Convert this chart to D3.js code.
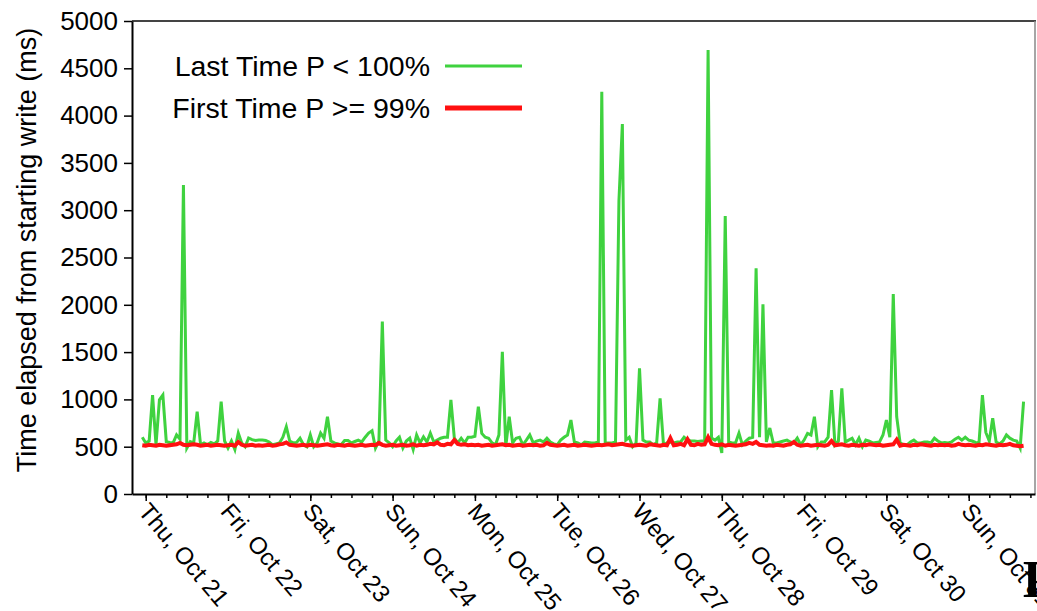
<!DOCTYPE html>
<html>
<head>
<meta charset="utf-8">
<script src="https://cdn.jsdelivr.net/npm/d3@7"></script>
<style>
  body { margin: 0; background: #fff; }
  svg { display: block; font-family: "Liberation Sans", Arial, sans-serif; }
</style>
</head>
<body>
<script>
// one sample per hour, first one at Wed Oct 20 2010 23:00
const firstSample = new Date(2010, 9, 20, 23);

// "Last Time P < 100%" (ms), hourly
const lastTimeMs = [600,
  540,560,1046,520,995,1046,553,545,540,624,580,3266,486,553,540,870,520,540,520,545,530,560,976,560,
  486,560,470,644,540,500,592,575,565,570,570,565,550,520,530,540,600,711,560,540,545,590,520,500,
  624,500,540,644,590,817,560,540,530,520,565,565,540,555,570,550,600,644,669,486,560,1822,570,540,
  500,560,600,486,560,590,470,624,540,605,550,644,550,570,590,600,600,995,590,540,590,540,600,600,
  610,923,640,600,590,540,520,624,1504,500,817,540,590,600,520,570,624,540,560,570,550,590,550,530,
  520,570,600,624,782,550,540,520,550,545,540,540,550,4253,540,540,540,550,3100,3911,570,600,500,540,
  1328,570,550,550,520,540,1011,520,540,550,540,550,550,600,570,560,560,555,560,560,4693,590,570,600,
  433,2939,550,540,540,644,520,560,590,600,2386,600,2005,550,698,540,540,550,560,570,550,540,590,520,
  570,641,624,817,500,550,550,600,1099,520,560,1117,550,570,590,520,590,500,570,560,540,545,550,624,
  782,600,2114,817,540,520,520,550,570,540,540,550,550,540,590,560,540,545,540,550,580,600,570,600,
  570,560,545,540,1046,650,560,800,550,530,560,624,590,570,560,486,976];

// "First Time P >= 99%" (ms), hourly
const firstTimeMs = [515,
  510,520,515,510,520,515,510,515,520,525,540,520,515,520,525,520,510,515,520,510,515,520,515,510,
  515,520,510,550,520,510,515,520,510,515,510,515,520,510,515,525,530,545,520,515,510,515,520,510,
  520,515,510,515,520,525,515,510,520,515,510,520,515,510,515,520,510,515,520,515,540,520,510,515,
  520,510,515,520,510,515,525,510,520,515,520,530,525,545,520,515,530,525,570,530,520,525,515,520,
  515,520,510,515,520,510,515,520,525,515,520,510,515,520,510,515,520,515,520,510,515,540,520,515,
  510,515,520,510,515,520,510,515,520,515,510,515,520,515,520,525,515,520,525,530,520,515,510,515,
  520,515,510,525,520,515,510,520,515,590,515,520,530,515,580,520,515,530,520,525,600,530,520,515,
  525,510,520,515,510,515,520,525,540,530,550,520,515,510,515,510,520,515,510,520,525,550,520,510,
  515,520,510,515,520,515,510,520,560,515,520,525,515,510,520,515,510,520,515,525,520,515,520,510,
  515,520,525,575,510,520,515,510,520,515,525,520,515,510,520,515,520,515,520,510,515,530,520,515,
  520,515,510,520,515,525,520,515,510,520,515,520,530,515,510,505,510];

const yTicks = [0,500,1000,1500,2000,2500,3000,3500,4000,4500,5000];
const seriesNames = ["Last Time P < 100%", "First Time P >= 99%"];
const seriesColors = ["#3fd23f", "#ff1010"];

const width = 1037, height = 611;
const plotLeft = 132, plotRight = 1035, plotTop = 21, plotBottom = 494;

const svg = d3.select("body").append("svg")
  .attr("width", width)
  .attr("height", height);

svg.append("rect").attr("width", width).attr("height", height).attr("fill", "#fff");

const x = d3.scaleTime()
  .domain([new Date(2010, 9, 20, 20), new Date(2010, 9, 31, 19, 20)])
  .range([plotLeft, plotRight]);
const y = d3.scaleLinear()
  .domain([0, 5000])
  .range([plotBottom, plotTop]);

// frame (top + right)
svg.append("line").attr("x1", plotLeft).attr("x2", plotRight + 1).attr("y1", plotTop).attr("y2", plotTop)
  .attr("stroke", "#444").attr("stroke-width", 2);
svg.append("line").attr("x1", plotRight).attr("x2", plotRight).attr("y1", plotTop).attr("y2", plotBottom)
  .attr("stroke", "#888").attr("stroke-width", 1.5);

// lines
const toPoints = arr => arr.map((v, i) => [d3.timeHour.offset(firstSample, i), v]);
const line = d3.line().x(d => x(d[0])).y(d => y(d[1]));

svg.append("path")
  .datum(toPoints(lastTimeMs))
  .attr("fill", "none")
  .attr("stroke", seriesColors[0])
  .attr("stroke-width", 3)
  .attr("d", line);

svg.append("path")
  .datum(toPoints(firstTimeMs))
  .attr("fill", "none")
  .attr("stroke", seriesColors[1])
  .attr("stroke-width", 4)
  .attr("d", line);

// y axis
const yAxis = svg.append("g")
  .attr("transform", "translate(" + plotLeft + ",0)")
  .call(d3.axisLeft(y).tickValues(yTicks).tickFormat(d3.format("d"))
    .tickSize(8).tickPadding(6).tickSizeOuter(0));
yAxis.select(".domain").attr("stroke", "#000").attr("stroke-width", 2);
yAxis.selectAll(".tick line").attr("stroke-width", 1.5);
yAxis.selectAll("text").attr("font-size", 26).attr("fill", "#000")
  .attr("font-family", "Liberation Sans, Arial, sans-serif");

// x axis: minor every 6 hours, major every day
const xMinor = svg.append("g")
  .attr("transform", "translate(0," + plotBottom + ")")
  .call(d3.axisBottom(x).ticks(d3.timeHour.every(6)).tickSize(4).tickFormat("").tickSizeOuter(0));
xMinor.selectAll(".tick line").attr("stroke-width", 1.5);
xMinor.select(".domain").attr("stroke", "#000").attr("stroke-width", 2);

const xAxis = svg.append("g")
  .attr("transform", "translate(0," + plotBottom + ")")
  .call(d3.axisBottom(x).ticks(d3.timeDay.every(1)).tickSize(7)
    .tickFormat(d3.timeFormat("%a, %b %d")).tickSizeOuter(0));
xAxis.select(".domain").remove();
xAxis.selectAll(".tick line").attr("stroke-width", 1.5);
xAxis.selectAll("text")
  .attr("font-size", 24)
  .attr("font-family", "Liberation Sans, Arial, sans-serif")
  .attr("fill", "#000")
  .attr("text-anchor", "start")
  .attr("y", 0).attr("dy", 0)
  .attr("transform", "translate(-9,18) rotate(50)");

// y axis title
svg.append("text")
  .attr("transform", "translate(36,250) rotate(-90)")
  .attr("text-anchor", "middle")
  .attr("font-size", 27)
  .text("Time elapsed from starting write (ms)");

// legend
const legend = svg.append("g");
seriesNames.forEach((name, i) => {
  const ly = [66, 108][i];
  legend.append("text")
    .attr("x", 430).attr("y", ly + 10)
    .attr("text-anchor", "end")
    .attr("font-size", 28.5)
    .text(name);
  legend.append("line")
    .attr("x1", 445).attr("x2", 522)
    .attr("y1", ly).attr("y2", ly)
    .attr("stroke", seriesColors[i])
    .attr("stroke-width", i === 0 ? 3 : 5);
});

// stray glyph cut at the right edge of the page
svg.append("text")
  .attr("x", 1022).attr("y", 597)
  .attr("font-family", "Liberation Serif, serif")
  .attr("font-weight", "bold")
  .attr("font-size", 52)
  .text("I");
</script>
</body>
</html>
